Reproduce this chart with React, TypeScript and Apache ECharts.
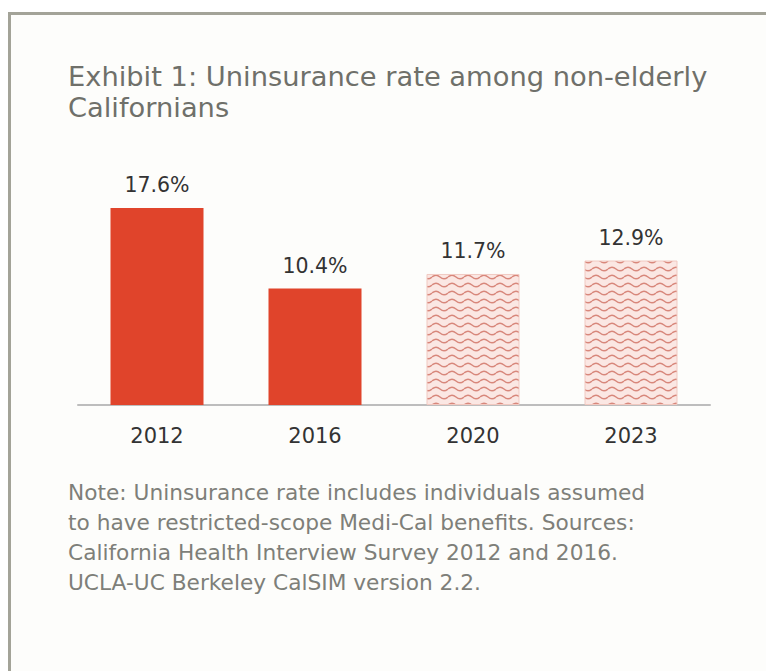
import React, { useEffect, useRef } from "react";
import * as echarts from "echarts";

const categories = ["2012", "2016", "2020", "2023"];
const values = [17.6, 10.4, 11.7, 12.9];
const projected = [false, false, true, true];
const titleLines = ["Exhibit 1: Uninsurance rate among non-elderly", "Californians"];
const noteLines = [
  "Note: Uninsurance rate includes individuals assumed",
  "to have restricted-scope Medi-Cal benefits. Sources:",
  "California Health Interview Survey 2012 and 2016.",
  "UCLA-UC Berkeley CalSIM version 2.2.",
];

const FONT = "'DejaVu Sans', 'Open Sans', sans-serif";

const patternSvg =
  "<svg xmlns='http://www.w3.org/2000/svg' width='16' height='8'>" +
  "<rect width='16' height='8' fill='#fbe7e3'/>" +
  "<path d='M0,5 Q4,1.5 8,5 T16,5' stroke='#d8877b' stroke-width='1.4' fill='none'/>" +
  "</svg>";
const patternUrl = "data:image/svg+xml;charset=utf-8," + encodeURIComponent(patternSvg);

export default function App() {
  const ref = useRef<HTMLDivElement>(null);
  useEffect(() => {
    if (!ref.current) return;
    const chart = echarts.init(ref.current, undefined, { renderer: "svg" });
    const data = values.map((v, i) => ({
      value: v,
      itemStyle: projected[i]
        ? {
            color: { image: patternUrl, repeat: "repeat", imageWidth: 16, imageHeight: 8 } as any,
            borderColor: "#f1c9c1",
            borderWidth: 1,
          }
        : { color: "#e0442b" },
    }));
    chart.setOption({
      animation: false,
      backgroundColor: "#fdfdfb",
      graphic: [
        { type: "rect", shape: { x: 0, y: 0, width: 766, height: 12 }, style: { fill: "#ffffff" }, silent: true },
        { type: "rect", shape: { x: 0, y: 0, width: 8, height: 671 }, style: { fill: "#ffffff" }, silent: true },
        { type: "line", shape: { x1: 8, y1: 13.5, x2: 766, y2: 13.5 }, style: { stroke: "#a3a398", lineWidth: 3 }, silent: true },
        { type: "line", shape: { x1: 9.5, y1: 12, x2: 9.5, y2: 671 }, style: { stroke: "#a3a398", lineWidth: 3 }, silent: true },
        ...titleLines.map((t, i) => ({
          type: "text",
          x: 68,
          y: 76 + i * 31,
          style: { text: t, font: `400 27.3px ${FONT}`, fill: "#6f706a", verticalAlign: "middle" },
        })),
        ...noteLines.map((t, i) => ({
          type: "text",
          x: 68,
          y: 492 + i * 30,
          style: { text: t, font: `400 21.7px ${FONT}`, fill: "#7e7f79", verticalAlign: "middle" },
        })),
      ],
      grid: { left: 78, top: 181, width: 632, height: 224, containLabel: false },
      xAxis: {
        type: "category",
        data: categories,
        axisLine: { show: true, lineStyle: { color: "#bdbdbd", width: 2 } },
        axisTick: { show: false },
        axisLabel: { fontSize: 21, color: "#333333", margin: 20, fontFamily: FONT },
      },
      yAxis: { type: "value", min: 0, max: 20, show: false, splitLine: { show: false } },
      series: [
        {
          type: "bar",
          data,
          barWidth: 93,
          label: {
            show: true,
            position: "top",
            distance: 12,
            formatter: (p: any) => `${p.value}%`,
            fontSize: 20.5,
            color: "#333333",
            fontFamily: FONT,
          },
        },
      ],
    });
    return () => chart.dispose();
  }, []);
  return (
    <div
      ref={ref}
      style={{ position: "fixed", left: 0, top: 0, width: 766, height: 671 }}
    />
  );
}
